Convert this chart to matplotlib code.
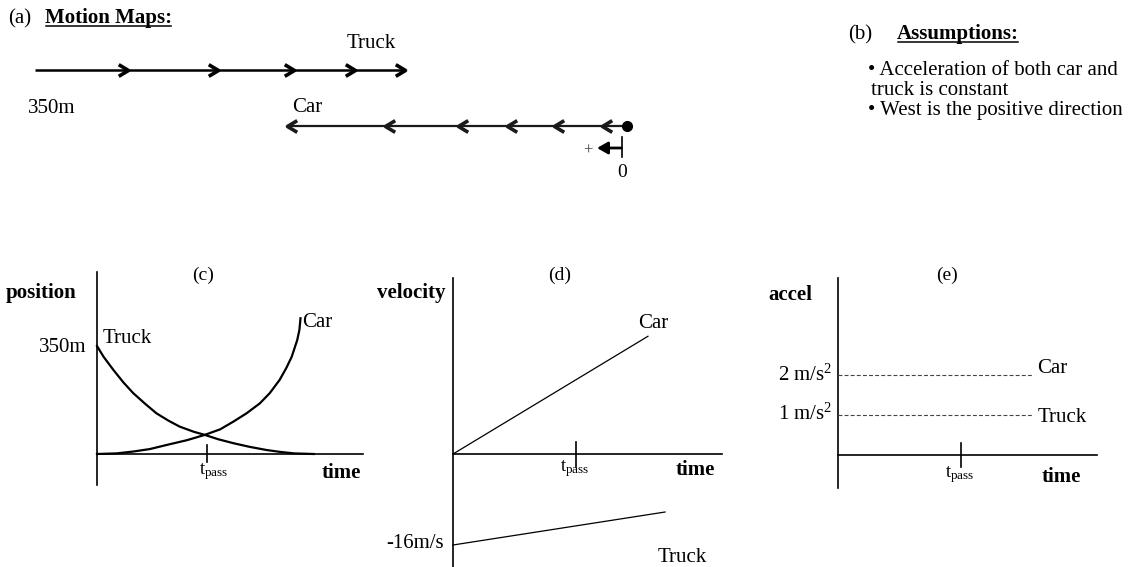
import matplotlib
matplotlib.use('Agg')
import matplotlib.pyplot as plt

plt.rcParams['font.family'] = ['Liberation Serif', 'DejaVu Serif']
plt.rcParams['mathtext.fontset'] = 'custom'
plt.rcParams['mathtext.rm'] = 'Liberation Serif'
plt.rcParams['mathtext.it'] = 'Liberation Serif:italic'
plt.rcParams['mathtext.bf'] = 'Liberation Serif:bold'

# ---------------- data ----------------
# (a) motion maps: positions in metres, west (left) positive
map_truck_pos = [350, 295, 242, 197, 161, 131]
map_car_pos = [0, 15, 43, 71, 100, 143, 201]

# (c) position vs time
pos_truck_t = [0, 0.6, 1.5, 2.4, 3.3, 4.4, 5.4, 6.5, 7.5, 8.8, 9.8, 11.0, 12.4, 13.9, 15.4, 16.6, 17.9, 19.7]
pos_truck_p = [350, 315, 272, 232, 197, 162, 132, 108, 89, 72, 62, 48, 35, 23, 13, 7, 2, 0]
pos_car_t = [0, 1.8, 3.3, 4.8, 6.3, 8.2, 9.8, 11.2, 12.4, 13.6, 14.8, 15.7, 16.6, 17.2, 17.7, 18.2, 18.4, 18.5]
pos_car_p = [0, 2, 8, 16, 29, 45, 62, 80, 105, 132, 164, 197, 240, 278, 315, 369, 402, 440]

# (d) velocity vs time
vel_car_t = [0, 15.85]
vel_car_v = [0, 20.7]
vel_truck_t = [0, 17.24]
vel_truck_v = [-16, -10.2]

# (e) acceleration vs time
acc_t = [0, 15.8]
acc_car = [2, 2]
acc_truck = [1, 1]

t_pass = 10

# ---------------- figure ----------------
W, H = 1135, 567
fig = plt.figure(figsize=(W / 100, H / 100), dpi=100)


def layer(ox, oy, sx, sy):
    """Axes covering the whole figure; pixel_x = ox + sx*u, pixel_y(top-down) = oy - sy*v."""
    ax = fig.add_axes([0, 0, 1, 1])
    ax.set_xlim((0 - ox) / sx, (W - ox) / sx)
    ax.set_ylim((oy - H) / sy, oy / sy)
    ax.axis('off')
    ax.patch.set_alpha(0)
    return ax


ov = layer(0, 0, 1, -1)          # pixel overlay for text
FS = 15
TP = r'$\mathregular{t_{pass}}$'

# ---------- (a) motion maps ----------
mp = layer(627, 0, -592 / 350, -1)
chev_r = [(-1, 0.6), (0, 0), (-1, -0.6)]
chev_l = [(1, 0.6), (0, 0), (1, -0.6)]
y_truck, y_car = 70, 126
mp.plot([map_truck_pos[0], map_truck_pos[-1]], [y_truck, y_truck], color='black', lw=1.8,
        solid_capstyle='butt')
mp.plot(map_truck_pos[1:], [y_truck] * (len(map_truck_pos) - 1), ls='none', marker=chev_r,
        ms=14, mfc='none', mec='black', mew=2.6)
mp.plot([map_car_pos[0], map_car_pos[-1]], [y_car, y_car], color='#1a1a1a', lw=1.6,
        solid_capstyle='butt')
mp.plot(map_car_pos[1:], [y_car] * (len(map_car_pos) - 1), ls='none', marker=chev_l,
        ms=14, mfc='none', mec='#1a1a1a', mew=2.6)
mp.plot([map_car_pos[0]], [y_car], ls='none', marker='o', ms=7, color='black')
# sign convention
mp.plot([3.25, 3.25], [137, 157], color='black', lw=1.2)
mp.annotate('', xy=(17.7, 148), xytext=(3.25, 148),
            arrowprops=dict(arrowstyle='-|>,head_length=0.7,head_width=0.4', color='black',
                            lw=2.0, mutation_scale=9, shrinkA=0, shrinkB=0))
ov.text(588, 151, '+', fontsize=12, ha='center', va='center', color='#444444')
ov.text(622, 177, '0', fontsize=FS - 1, ha='center', va='baseline')
ov.text(347, 48, 'Truck', fontsize=FS, ha='left', va='baseline')
ov.text(28, 113, '350m', fontsize=FS, ha='left', va='baseline')
ov.text(292, 112, 'Car', fontsize=FS, ha='left', va='baseline')

ta = ov.text(8, 23, '(a)', fontsize=FS, ha='left', va='baseline')
tm = ov.text(45, 23, 'Motion Maps:', fontsize=FS, fontweight='bold', ha='left', va='baseline')
tb = ov.text(848, 39, '(b)', fontsize=FS, ha='left', va='baseline')
tas = ov.text(897, 39, 'Assumptions:', fontsize=FS, fontweight='bold', ha='left', va='baseline')

ov.text(868, 75, '\u2022 Acceleration of both car and', fontsize=FS, ha='left', va='baseline')
ov.text(871, 95, 'truck is constant', fontsize=FS, ha='left', va='baseline')
ov.text(868, 115, '\u2022 West is the positive direction', fontsize=FS, ha='left', va='baseline')

# ---------- (c) position ----------
sx_c, sy_c = 11.0, 108 / 350
pc = layer(97, 454, sx_c, sy_c)
pc.plot([0, 0], [(454 - 485) / sy_c, (454 - 272) / sy_c], color='black', lw=1.2)
pc.plot([0, (363 - 97) / sx_c], [0, 0], color='black', lw=1.2)
pc.plot([t_pass, t_pass], [(454 - 445) / sy_c, (454 - 462) / sy_c], color='black', lw=1.2)
pc.plot(pos_truck_t, pos_truck_p, color='black', lw=1.6)
pc.plot(pos_car_t, pos_car_p, color='black', lw=1.6)
ov.text(203, 280, '(c)', fontsize=FS - 1, ha='center', va='baseline')
ov.text(6, 298, 'position', fontsize=FS, fontweight='bold', ha='left', va='baseline')
ov.text(86, 352, '350m', fontsize=FS, ha='right', va='baseline')
ov.text(103, 343, 'Truck', fontsize=FS, ha='left', va='baseline')
ov.text(302, 327, 'Car', fontsize=FS, ha='left', va='baseline')
ov.text(361, 478, 'time', fontsize=FS, fontweight='bold', ha='right', va='baseline')
ov.text(199, 474, TP, fontsize=FS - 1.5, ha='left', va='baseline')

# ---------- (d) velocity ----------
sx_d, sy_d = 12.3, 91 / 16
pdv = layer(453, 454, sx_d, sy_d)
pdv.plot([0, 0], [(454 - 567) / sy_d, (454 - 278) / sy_d], color='black', lw=1.2)
pdv.plot([0, (722 - 453) / sx_d], [0, 0], color='black', lw=1.2)
pdv.plot([t_pass, t_pass], [(454 - 442) / sy_d, (454 - 467) / sy_d], color='black', lw=1.2)
pdv.plot(vel_car_t, vel_car_v, color='black', lw=0.9)
pdv.plot(vel_truck_t, vel_truck_v, color='black', lw=0.9)
ov.text(560, 280, '(d)', fontsize=FS - 1, ha='center', va='baseline')
ov.text(377, 298, 'velocity', fontsize=FS, fontweight='bold', ha='left', va='baseline')
ov.text(638, 328, 'Car', fontsize=FS, ha='left', va='baseline')
ov.text(715, 475, 'time', fontsize=FS, fontweight='bold', ha='right', va='baseline')
ov.text(560, 471, TP, fontsize=FS - 1.5, ha='left', va='baseline')
ov.text(444, 548, '-16m/s', fontsize=FS, ha='right', va='baseline')
ov.text(658, 562, 'Truck', fontsize=FS, ha='left', va='baseline')

# ---------- (e) acceleration ----------
sx_e, sy_e = 12.3, 40.0
pe = layer(838, 455, sx_e, sy_e)
pe.plot([0, 0], [(455 - 488) / sy_e, (455 - 278) / sy_e], color='black', lw=1.2)
pe.plot([0, (1097 - 838) / sx_e], [0, 0], color='black', lw=1.2)
pe.plot([t_pass, t_pass], [(455 - 443) / sy_e, (455 - 467) / sy_e], color='black', lw=1.2)
pe.plot(acc_t, acc_car, color='#444444', lw=0.8, ls=(0, (3.5, 2)))
pe.plot(acc_t, acc_truck, color='#444444', lw=0.8, ls=(0, (3.5, 2)))
ov.text(947, 280, '(e)', fontsize=FS - 1, ha='center', va='baseline')
ov.text(768, 300, 'accel', fontsize=FS, fontweight='bold', ha='left', va='baseline')
ov.text(832, 381, r'2 m/s$\mathregular{^2}$', fontsize=FS, ha='right', va='baseline')
ov.text(832, 420, r'1 m/s$\mathregular{^2}$', fontsize=FS, ha='right', va='baseline')
ov.text(1037, 373, 'Car', fontsize=FS, ha='left', va='baseline')
ov.text(1038, 422, 'Truck', fontsize=FS, ha='left', va='baseline')
ov.text(1081, 482, 'time', fontsize=FS, fontweight='bold', ha='right', va='baseline')
ov.text(945, 477, TP, fontsize=FS - 1.5, ha='left', va='baseline')

# underlines for bold headings
fig.canvas.draw()
r = fig.canvas.get_renderer()
for t, y in [(tm, 26), (tas, 42)]:
    bb = t.get_window_extent(renderer=r)
    ov.plot([bb.x0 + 1, bb.x1 - 1], [y, y], color='black', lw=1.1)

fig.savefig('out.png', dpi=100)
